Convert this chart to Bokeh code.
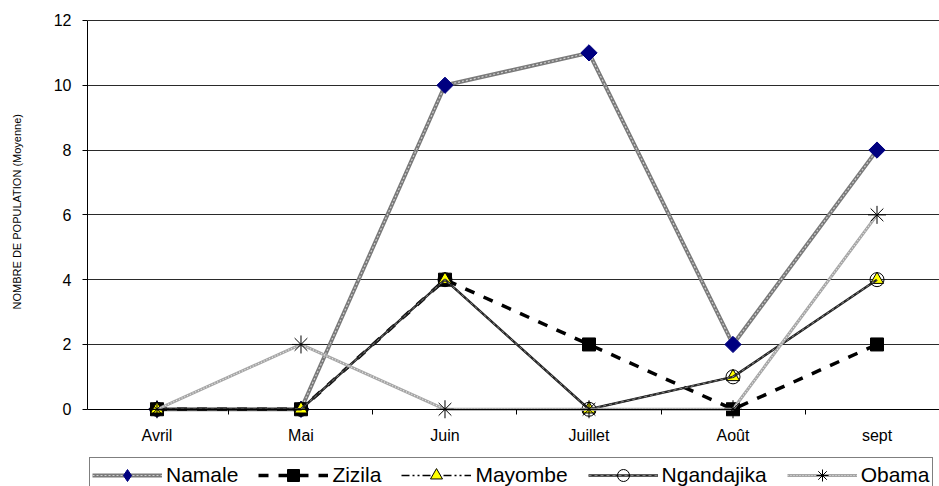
from math import pi
from bokeh.plotting import figure
from bokeh.models import FixedTicker, Legend, LegendItem, Range1d
from bokeh.embed import file_html
from bokeh.resources import INLINE

months = ["Avril", "Mai", "Juin", "Juillet", "Août", "sept"]
namale = [0, 0, 10, 11, 2, 8]
zizila = [0, 0, 4, 2, 0, 2]
mayombe = [0, 0, 4, 0, 1, 4]
ngandajika = [0, 0, 4, 0, 1, 4]
obama = [0, 2, 0, 0, 0, 6]
y_ticks = [0, 2, 4, 6, 8, 10, 12]
y_label = "NOMBRE DE POPULATION (Moyenne)"

x = list(range(len(months)))
FONT = "Liberation Sans"

p = figure(width=939, height=486, output_backend="svg", toolbar_location=None,
           x_range=Range1d(-0.4826, 5.434), y_range=Range1d(-2.384, 12.03),
           min_border_left=87, min_border_right=0, min_border_top=19,
           min_border_bottom=0)
p.outline_line_color = None
p.background_fill_color = "white"
p.border_fill_color = "white"
p.xgrid.visible = False
p.ygrid.grid_line_color = "#2a2a2a"
p.ygrid.grid_line_width = 1

# x axis drawn at y = 0 (category labels, small ticks between categories)
xa = p.xaxis[0]
xa.fixed_location = 0
xa.ticker = FixedTicker(ticks=x, minor_ticks=[i + 0.5 for i in x[:-1]])
xa.major_label_overrides = {i: m for i, m in zip(x, months)}
xa.major_tick_out = 0
xa.major_tick_in = 0
xa.minor_tick_out = 5
xa.minor_tick_in = 0
xa.minor_tick_line_color = "black"
xa.axis_line_color = "black"
xa.major_label_standoff = 13
xa.major_label_text_font = FONT
xa.major_label_text_font_size = "16px"
xa.major_label_text_color = "black"

# y axis
ya = p.yaxis[0]
ya.ticker = FixedTicker(ticks=y_ticks)
ya.bounds = (0, 12)
ya.major_tick_out = 5
ya.major_tick_in = 0
ya.minor_tick_line_color = None
ya.axis_line_color = "black"
ya.major_label_standoff = 11
ya.major_label_text_font = FONT
ya.major_label_text_font_size = "16px"
ya.major_label_text_color = "black"
# the frame reaches the page bottom (legend inside it), so lift the label
# to be centred on the 0-12 span with leading non-breaking spaces
ya.axis_label = "\u00a0" * 27 + y_label
ya.axis_label_text_font = FONT
ya.axis_label_text_font_size = "11px"
ya.axis_label_text_font_style = "normal"
ya.axis_label_text_color = "black"
ya.axis_label_standoff = 28

items = []

# Namale
r1 = p.line(x, namale, line_color="#7a7a7a", line_width=4)
r1b = p.line(x, namale, line_color="#d0d0d0", line_width=1.2, line_dash="2 2")
m1d = p.scatter(x, namale, marker="diamond", size=10,
                fill_color="#000080", line_color="#000080")
m1 = p.scatter(x, namale, marker="square", angle=pi / 4, size=11.5,
               fill_color="#000080", line_color="#000080")
items.append(LegendItem(label="Namale", renderers=[r1, r1b, m1d]))

# Zizila
r2 = p.line(x, zizila, line_color="black", line_width=3.5, line_dash="10 10")
m2 = p.scatter(x, zizila, marker="square", size=13,
               fill_color="black", line_color="black")
items.append(LegendItem(label="Zizila", renderers=[r2, m2]))

# Mayombe
r3 = p.line(x, mayombe, line_color="black", line_width=1.5,
            line_dash="8 3 2 3 2 3")
m3 = p.scatter(x, mayombe, marker="triangle", size=13,
               fill_color="#ffff00", line_color="black", line_width=1)
items.append(LegendItem(label="Mayombe", renderers=[r3, m3]))

# Ngandajika
r4 = p.line(x, ngandajika, line_color="#262626", line_width=2.5)
r4b = p.line(x, ngandajika, line_color="#9a9a9a", line_width=0.8, line_dash="3 3")
m4 = p.scatter(x, ngandajika, marker="circle", size=14,
               fill_color=None, line_color="black", line_width=1)
items.append(LegendItem(label="Ngandajika", renderers=[r4, r4b, m4]))

# Obama
r5 = p.line(x, obama, line_color="#a6a6a6", line_width=3)
r5b = p.line(x, obama, line_color="#ececec", line_width=1.2, line_dash="1 2")
m5 = p.scatter(x, obama, marker="asterisk", size=18,
               fill_color=None, line_color="black", line_width=1)
items.append(LegendItem(label="Obama", renderers=[r5, r5b, m5]))

legend = Legend(items=items, orientation="horizontal", location=(2, -7),
                label_text_font=FONT, label_text_font_size="21px",
                label_text_color="black", glyph_width=70, glyph_height=30,
                label_height=24, label_standoff=4, spacing=20, padding=2,
                margin=0, border_line_color="black", border_line_width=1,
                background_fill_color="white", background_fill_alpha=1)
p.add_layout(legend, "center")

open("out.html", "w").write(file_html(p, INLINE))
